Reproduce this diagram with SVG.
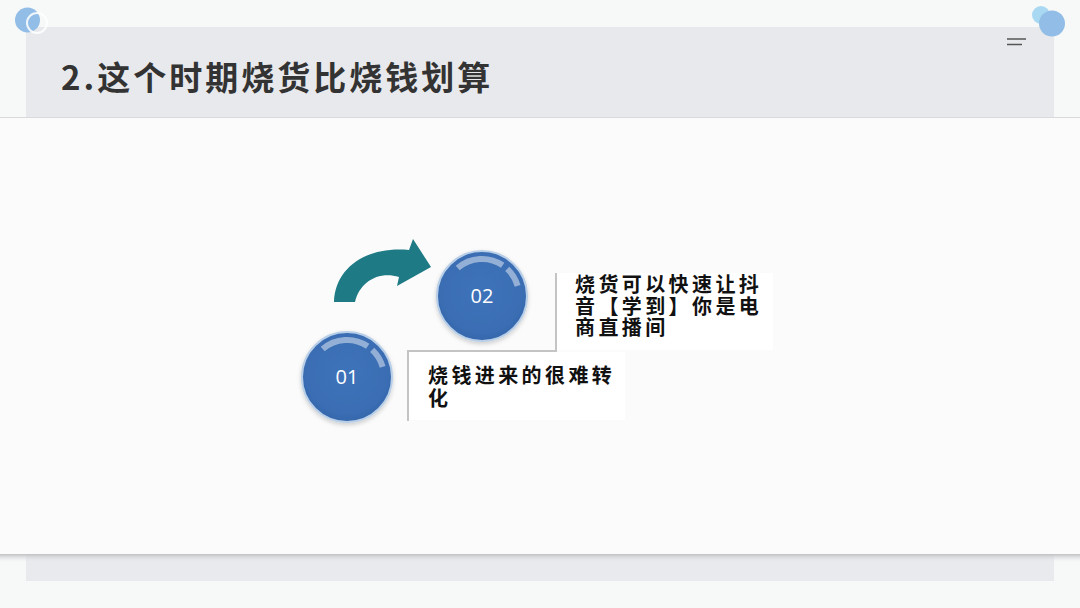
<svg xmlns="http://www.w3.org/2000/svg" width="1080" height="608" viewBox="0 0 1080 608">
<defs>
<style>
.title{font-family:"Noto Sans CJK SC","Noto Sans",sans-serif;font-weight:700;font-size:33px;fill:#333333;letter-spacing:3px}
.body{font-family:"Noto Sans CJK SC","Noto Sans",sans-serif;font-weight:700;font-size:20px;fill:#111111;letter-spacing:3.4px}
.num{font-family:"Open Sans","Liberation Sans",sans-serif;font-size:20px;fill:#ffffff;text-anchor:middle}
.ball{fill:url(#ballGrad);stroke:#b9cfe8;stroke-width:2}
.hl{fill:none;stroke:#ffffff;stroke-opacity:0.45;stroke-width:6}
.bracket{fill:none;stroke:#c4c4c4;stroke-width:2}
</style>
<radialGradient id="ballGrad" cx="50%" cy="45%" r="55%">
<stop offset="0%" stop-color="#3d73ba"/>
<stop offset="85%" stop-color="#3a6db3"/>
<stop offset="100%" stop-color="#3566aa"/>
</radialGradient>
<linearGradient id="shadowB" x1="0" y1="0" x2="0" y2="1">
<stop offset="0%" stop-color="#bfc1c3"/>
<stop offset="100%" stop-color="#e9eaed" stop-opacity="0"/>
</linearGradient>
<filter id="soft" x="-20%" y="-20%" width="140%" height="140%">
<feDropShadow dx="0" dy="2" stdDeviation="2" flood-color="#000" flood-opacity="0.18"/>
</filter>
</defs>
<rect width="1080" height="608" fill="#f7f8f8"/>
<g id="background">
<rect x="26" y="27" width="1028" height="90" fill="#e8e9ec"/>
<rect x="0" y="117" width="1080" height="437" fill="#fbfbfb"/>
<line x1="0" y1="117.5" x2="1080" y2="117.5" stroke="#d9dadc" stroke-width="1"/>
<rect x="26" y="554" width="1028" height="27" fill="#e9eaed"/>
<rect x="0" y="554" width="1080" height="8" fill="url(#shadowB)"/>
</g>
<g id="decor">
<circle cx="27.5" cy="20" r="12.5" fill="#92bde6"/>
<circle cx="37" cy="23" r="10" fill="none" stroke="#ffffff" stroke-width="2" stroke-opacity="0.85"/>
<circle cx="1041" cy="15" r="9" fill="#a9d9f2"/>
<circle cx="1052" cy="23.5" r="13" fill="#92bde6"/>
<line x1="1007" y1="39" x2="1026" y2="39" stroke="#555" stroke-width="1.5"/>
<line x1="1007" y1="44.5" x2="1022" y2="44.5" stroke="#555" stroke-width="1.5"/>
</g>
<g id="title">
<text class="title" x="61" y="90">2.这个时期烧货比烧钱划算</text>
</g>
<g id="connectors">
<path id="arrow" d="M334 302 C335 268 366 246 409 250 L413 239 L431 267 L397 286 L399 277 C378 271 360 282 355 302 Z" fill="#1e7a85"/>
<polyline class="bracket" points="556,273 556,351 408,351 408,421"/>
</g>
<g id="node-02">
<rect x="557" y="273" width="216" height="77" fill="#ffffff"/>
<circle class="ball" cx="482" cy="296" r="45" filter="url(#soft)"/>
<path class="hl" d="M457.7 268.1 A37 37 0 0 1 502.7 265.3 M507.2 268.9 A37 37 0 0 1 517.6 285.8"/>
<text class="num" x="482" y="303">02</text>
<text class="body" x="575" y="292">烧货可以快速让抖<tspan x="575" dy="21.5">音【学到】你是电</tspan><tspan x="575" dy="21.5">商直播间</tspan></text>
</g>
<g id="node-01">
<rect x="409" y="352" width="216" height="68" fill="#ffffff"/>
<circle class="ball" cx="347" cy="377" r="45" filter="url(#soft)"/>
<path class="hl" d="M322.7 349.1 A37 37 0 0 1 367.7 346.3 M372.2 349.9 A37 37 0 0 1 382.6 366.8"/>
<text class="num" x="347" y="384">01</text>
<text class="body" x="428" y="383">烧钱进来的很难转<tspan x="428" dy="23">化</tspan></text>
</g>
</svg>
